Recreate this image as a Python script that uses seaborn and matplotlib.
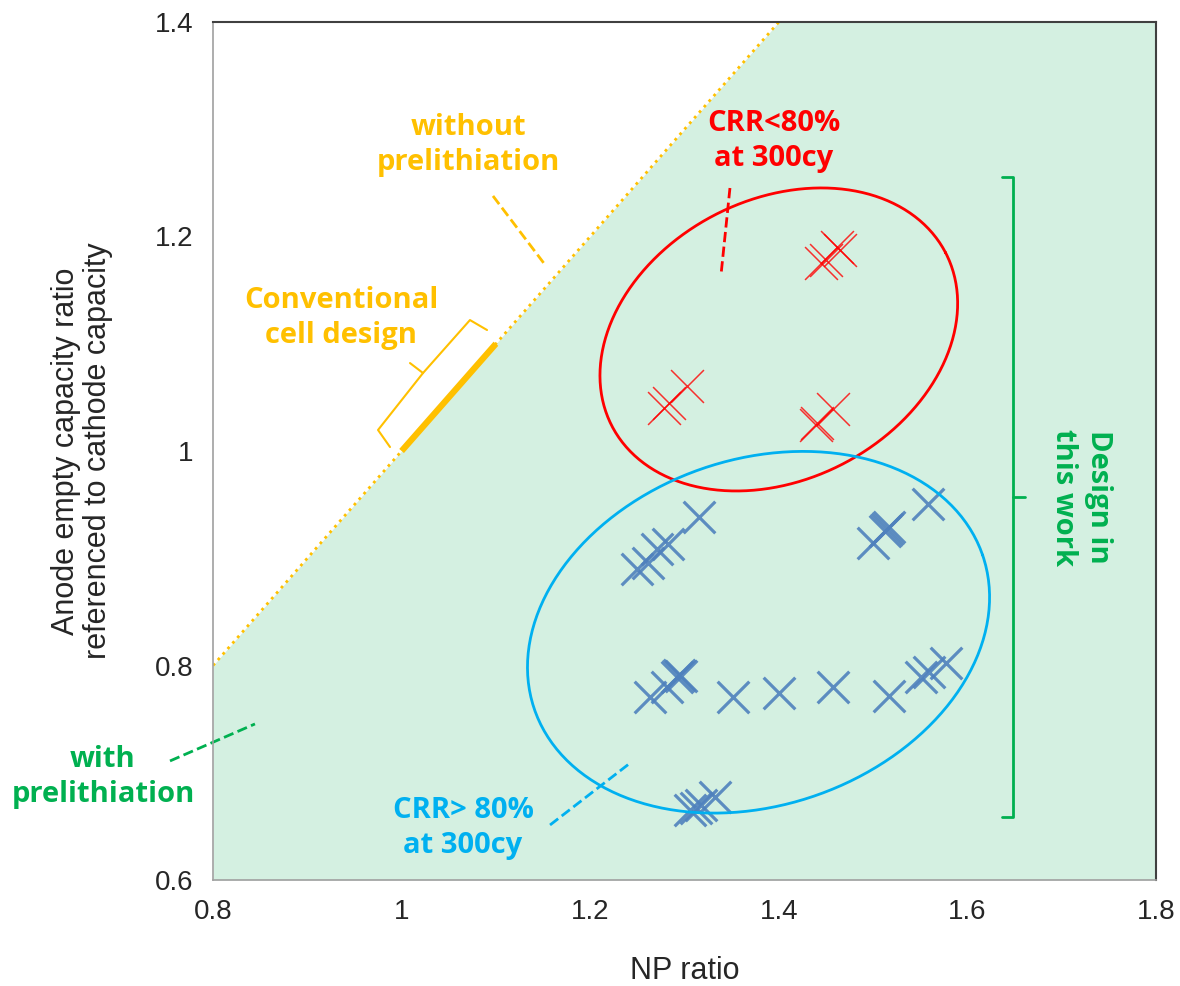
import numpy as np
import pandas as pd
import matplotlib
matplotlib.use("Agg")
import matplotlib.pyplot as plt
import seaborn as sns

# cells with capacity retention < 80% at 300 cycles
red_np = [1.445, 1.450, 1.462, 1.465, 1.278, 1.284, 1.303, 1.439, 1.441, 1.457]
red_ratio = [1.175, 1.178, 1.190, 1.187, 1.040, 1.045, 1.061, 1.024, 1.026, 1.039]

# cells with capacity retention > 80% at 300 cycles
blue_np = [1.250, 1.261, 1.271, 1.282, 1.315,
           1.500, 1.513, 1.515, 1.517, 1.558,
           1.263, 1.281, 1.292, 1.294, 1.296, 1.351, 1.400, 1.457, 1.517, 1.551, 1.559, 1.577,
           1.306, 1.312, 1.317, 1.332]
blue_ratio = [0.890, 0.896, 0.909, 0.913, 0.938,
              0.914, 0.925, 0.927, 0.929, 0.951,
              0.771, 0.780, 0.789, 0.791, 0.790, 0.771, 0.774, 0.780, 0.772, 0.789, 0.794, 0.802,
              0.665, 0.667, 0.670, 0.677]

# boundary NP ratio = capacity ratio, conventional design segment
boundary = [0.8, 1.4]
conventional = [1.0, 1.1]

xticks = [0.8, 1.0, 1.2, 1.4, 1.6, 1.8]
xticklabels = ['0.8', '1', '1.2', '1.4', '1.6', '1.8']
yticks = [0.6, 0.8, 1.0, 1.2, 1.4]
yticklabels = ['0.6', '0.8', '1', '1.2', '1.4']

ORANGE = '#FFC000'
RED = '#FF0000'
CYAN = '#00B0F0'
GREEN = '#00B050'
MARK = '#4F81BD'
FILL = '#D4F0E1'

sns.set_style("white")
plt.rcParams['font.family'] = ['Liberation Sans', 'DejaVu Sans']
ann_font = ['Open Sans', 'DejaVu Sans']

fig = plt.figure(figsize=(11.8, 9.86), dpi=100)
ax = fig.add_axes([213 / 1180, 1 - 880 / 986, (1156 - 213) / 1180, (880 - 22) / 986])
ax.set_xlim(0.8, 1.8)
ax.set_ylim(0.6, 1.4)

# shaded region below the boundary
ax.fill_between([0.8, 1.4, 1.8], [0.8, 1.4, 1.4], [0.6, 0.6, 0.6], color=FILL, lw=0, zorder=0)
ax.plot(boundary, boundary, color=ORANGE, ls=':', lw=2, zorder=2)
ax.plot(conventional, conventional, color=ORANGE, lw=4.5, solid_capstyle='butt', zorder=3)

red_df = pd.DataFrame({'np': red_np, 'ratio': red_ratio})
blue_df = pd.DataFrame({'np': blue_np, 'ratio': blue_ratio})
sns.scatterplot(data=red_df, x='np', y='ratio', marker='x', s=560, linewidth=1.1,
                color=RED, alpha=0.8, ax=ax, zorder=4)
sns.scatterplot(data=blue_df, x='np', y='ratio', marker='x', s=520, linewidth=2.3,
                color=MARK, alpha=0.9, ax=ax, zorder=4)


def ellipse(ax, cx, cy, a, b, ang, **kw):
    # ellipse sized in screen pixels, centred on a data point
    fig.canvas.draw()
    c = ax.transData.transform((cx, cy))
    t = np.linspace(0, 2 * np.pi, 300)
    th = np.deg2rad(ang)
    px = c[0] + a * np.cos(t) * np.cos(th) - b * np.sin(t) * np.sin(th)
    py = c[1] + a * np.cos(t) * np.sin(th) + b * np.sin(t) * np.cos(th)
    pts = ax.transData.inverted().transform(np.column_stack([px, py]))
    ax.plot(pts[:, 0], pts[:, 1], **kw)


ellipse(ax, 1.400, 1.104, 188, 140, 27.5, color=RED, lw=2, zorder=5)
ellipse(ax, 1.3785, 0.831, 237, 173, 19, color=CYAN, lw=2, zorder=5)

# orange brace next to the conventional design segment
brace_x = [1.0906, 1.0725, 1.0227, 0.975, 0.9877]
brace_y = [1.1128, 1.1221, 1.0727, 1.0196, 1.0037]
ax.plot(brace_x, brace_y, color=ORANGE, lw=1.5, zorder=3, clip_on=False)
ax.plot([1.0227, 1.0089], [1.0727, 1.082], color=ORANGE, lw=1.5, zorder=3)

# green bracket on the right
ax.plot([1.6367, 1.6483, 1.6483, 1.6367], [1.2555, 1.2555, 0.6587, 0.6587], color=GREEN, lw=2)
ax.plot([1.6483, 1.6611], [0.957, 0.957], color=GREEN, lw=2)

# leader lines
ax.plot([1.0969, 1.1531], [1.2378, 1.1725], color=ORANGE, ls='--', lw=2)
ax.plot([1.3482, 1.3387], [1.2452, 1.1641], color=RED, ls='--', lw=2)
ax.plot([1.1574, 1.2411], [0.6513, 0.7082], color=CYAN, ls='--', lw=2)
ax.plot([0.7544, 0.8445], [0.711, 0.7455], color=GREEN, ls='--', lw=2, clip_on=False)

tk = dict(fontsize=21, fontweight='bold', ha='center', va='center', family=ann_font,
          linespacing=1.3)
ax.text(1.0704, 1.2853, 'without\nprelithiation', color=ORANGE, **tk)
ax.text(0.9357, 1.124, 'Conventional\ncell design', color=ORANGE, **tk)
ax.text(1.3949, 1.289, 'CRR<80%\nat 300cy', color=RED, **tk)
ax.text(1.0651, 0.6485, 'CRR> 80%\nat 300cy', color=CYAN, **tk)
ax.text(0.6834, 0.696, 'with\nprelithiation', color=GREEN, clip_on=False, **tk)
ax.text(1.7205, 0.957, 'Design in\nthis work', color=GREEN, rotation=-90, **tk)

ax.set_xticks(xticks)
ax.set_xticklabels(xticklabels)
ax.set_yticks(yticks)
ax.set_yticklabels(yticklabels)
ax.tick_params(direction='out', length=6, width=1, color='#A0A0A0', labelsize=20, pad=8)
ax.set_xlabel('NP ratio', fontsize=22, labelpad=22)
ax.set_ylabel('Anode empty capacity ratio\nreferenced to cathode capacity', fontsize=22,
              labelpad=30, linespacing=1.1)
for s in ['top', 'right']:
    ax.spines[s].set_color('#404040')
    ax.spines[s].set_linewidth(1.5)
for s in ['left', 'bottom']:
    ax.spines[s].set_color('#A0A0A0')
    ax.spines[s].set_linewidth(1.2)

fig.savefig('out.png', dpi=100)
